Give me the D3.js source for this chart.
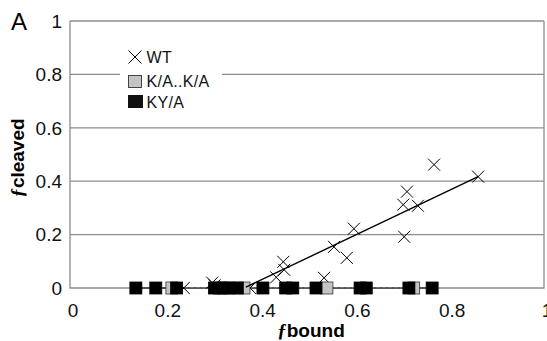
<!DOCTYPE html>
<html>
<head>
<meta charset="utf-8">
<script src="https://cdn.jsdelivr.net/npm/d3@7"></script>
<style>
  body { margin: 0; background: #fff; }
  svg { display: block; font-family: "Liberation Sans", Arial, sans-serif; }
</style>
</head>
<body>
<svg id="chart" width="547" height="341"></svg>
<script>
// WT (crosses)
const wtX = [0.24, 0.30, 0.305, 0.38, 0.435, 0.45, 0.452, 0.536, 0.557, 0.584, 0.599, 0.703, 0.705, 0.711, 0.734, 0.768, 0.861];
const wtY = [0.0, 0.02, 0.01, 0.0, 0.04, 0.098, 0.068, 0.038, 0.154, 0.113, 0.222, 0.312, 0.192, 0.361, 0.308, 0.462, 0.417];
// K/A..K/A (grey squares)
const kaX = [0.215, 0.367, 0.542, 0.725];
const kaY = [0, 0, 0, 0];
// KY/A (black squares)
const kyX = [0.139, 0.181, 0.225, 0.305, 0.315, 0.325, 0.337, 0.353, 0.407, 0.455, 0.47, 0.519, 0.612, 0.625, 0.715, 0.764];
const kyY = [0, 0, 0, 0, 0, 0, 0, 0, 0, 0, 0, 0, 0, 0, 0, 0];
// trend lines (end points)
const wtTrendX = [0.371, 0.861];
const wtTrendY = [0.003, 0.417];
const kaTrendX = [0.215, 0.725];
const kaTrendY = [0.001, 0.001];
const kyTrendX = [0.139, 0.764];
const kyTrendY = [0.0, 0.0];

const ticks = [0, 0.2, 0.4, 0.6, 0.8, 1];
const tickLabels = ["0", "0.2", "0.4", "0.6", "0.8", "1"];

const svg = d3.select("#chart");
const margin = {left: 70, right: 3, top: 21, bottom: 53};
const W = 547, H = 341;

const x = d3.scaleLinear().domain([0, 1]).range([margin.left, W - margin.right]);
const y = d3.scaleLinear().domain([0, 1]).range([H - margin.bottom, margin.top]);

const grid = "#8c8c8c";

// gridlines
svg.append("g").selectAll("line").data(ticks.slice(1)).join("line")
  .attr("x1", x(0)).attr("x2", x(1))
  .attr("y1", d => y(d)).attr("y2", d => y(d))
  .attr("stroke", grid).attr("stroke-width", 1.3);

// plot frame (left, bottom, right)
svg.append("path")
  .attr("d", `M${x(0)},${y(1)}V${y(0)}H${x(1)}V${y(1)}`)
  .attr("fill", "none").attr("stroke", grid).attr("stroke-width", 1.3);

// axis labels
svg.append("g").selectAll("text").data(ticks).join("text")
  .attr("x", x(0) - 8).attr("y", d => y(d)).attr("dy", "0.36em")
  .attr("text-anchor", "end").attr("font-size", 19).attr("fill", "#111")
  .text((d, i) => tickLabels[i]);

svg.append("g").selectAll("text").data(ticks).join("text")
  .attr("x", d => x(d) + 3).attr("y", y(0) + 29)
  .attr("text-anchor", "middle").attr("font-size", 19).attr("fill", "#111")
  .text((d, i) => tickLabels[i]);

// titles
const xt = svg.append("text")
  .attr("x", 311).attr("y", 337)
  .attr("text-anchor", "middle").attr("font-size", 19).attr("font-weight", "bold");
xt.append("tspan").attr("font-style", "italic").attr("font-family", "Liberation Serif, serif").text("ƒ");
xt.append("tspan").text("bound");

const yt = svg.append("text")
  .attr("transform", `translate(24,158) rotate(-90)`)
  .attr("text-anchor", "middle").attr("font-size", 19).attr("font-weight", "bold");
yt.append("tspan").attr("font-style", "italic").attr("font-family", "Liberation Serif, serif").text("ƒ");
yt.append("tspan").text("cleaved");

svg.append("text").attr("x", 11).attr("y", 30).attr("font-size", 24).text("A");

// trend lines
const line = d3.line().x(d => x(d[0])).y(d => y(d[1]));
svg.append("path").datum(d3.zip(kyTrendX, kyTrendY)).attr("d", line)
  .attr("stroke", "#000").attr("stroke-width", 1.2).attr("fill", "none");
svg.append("path").datum(d3.zip(kaTrendX, kaTrendY)).attr("d", line)
  .attr("stroke", "#777").attr("stroke-width", 1.2).attr("stroke-dasharray", "4,2").attr("fill", "none");

// markers
const cross = (s) => `M${-s},${-s}L${s},${s}M${-s},${s}L${s},${-s}`;
svg.append("g").selectAll("path").data(d3.zip(wtX, wtY)).join("path")
  .attr("transform", d => `translate(${x(d[0])},${y(d[1])})`)
  .attr("d", cross(6)).attr("stroke", "#000").attr("stroke-width", 1).attr("fill", "none");

const sq = 12;
svg.append("g").selectAll("rect").data(d3.zip(kaX, kaY)).join("rect")
  .attr("x", d => x(d[0]) - sq / 2).attr("y", d => y(d[1]) - sq / 2)
  .attr("width", sq).attr("height", sq)
  .attr("fill", "#c4c4c4").attr("stroke", "#333").attr("stroke-width", 0.8);
svg.append("g").selectAll("rect").data(d3.zip(kyX, kyY)).join("rect")
  .attr("x", d => x(d[0]) - sq / 2).attr("y", d => y(d[1]) - sq / 2)
  .attr("width", sq).attr("height", sq)
  .attr("fill", "#000").attr("stroke", "#000").attr("stroke-width", 0.8);

svg.append("path").datum(d3.zip(wtTrendX, wtTrendY)).attr("d", line)
  .attr("stroke", "#000").attr("stroke-width", 1.4).attr("fill", "none");

// legend
const lg = svg.append("g").attr("transform", "translate(120,44)");
lg.append("rect").attr("x", 0).attr("y", 0).attr("width", 102).attr("height", 68).attr("fill", "#fff");
lg.append("path").attr("transform", "translate(15,13)").attr("d", cross(6.5))
  .attr("stroke", "#000").attr("stroke-width", 1).attr("fill", "none");
lg.append("rect").attr("x", 8.5).attr("y", 31.5).attr("width", 13).attr("height", 12)
  .attr("fill", "#c4c4c4").attr("stroke", "#333").attr("stroke-width", 0.9);
lg.append("rect").attr("x", 8).attr("y", 51).attr("width", 15).attr("height", 13).attr("fill", "#111");
const names = ["WT", "K/A..K/A", "KY/A"];
lg.selectAll("text.n").data(names).join("text")
  .attr("x", 26.5).attr("y", (d, i) => [13, 37, 58][i]).attr("dy", "0.36em")
  .attr("font-size", 16).attr("letter-spacing", 0.3).attr("fill", "#111").text(d => d);
</script>
</body>
</html>
